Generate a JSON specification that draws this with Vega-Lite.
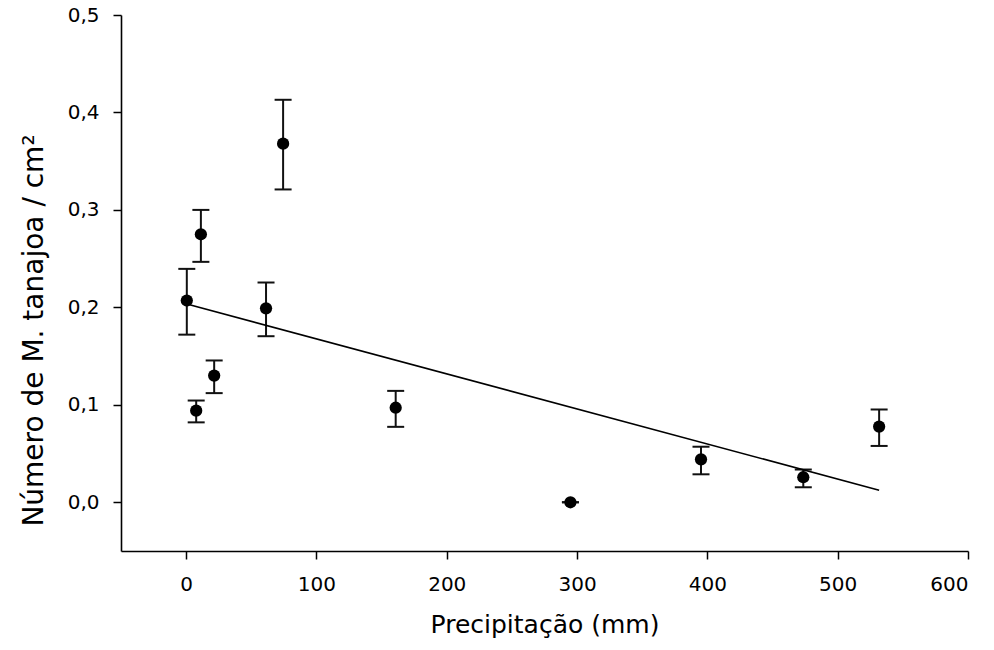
{
  "$schema": "https://vega.github.io/schema/vega-lite/v6.json",
  "width": 847,
  "height": 536,
  "autosize": {"type": "none"},
  "padding": {"left": 121, "top": 15, "right": 26, "bottom": 99},
  "background": "white",
  "datasets": {
    "pts": [
      {"x": 0.5, "y": 0.207, "lo": 0.172, "hi": 0.2395},
      {"x": 7.7, "y": 0.094, "lo": 0.082, "hi": 0.1044},
      {"x": 11.3, "y": 0.275, "lo": 0.2467, "hi": 0.300},
      {"x": 21.5, "y": 0.130, "lo": 0.112, "hi": 0.1455},
      {"x": 61.3, "y": 0.199, "lo": 0.1704, "hi": 0.2255},
      {"x": 74.4, "y": 0.368, "lo": 0.321, "hi": 0.413},
      {"x": 160.8, "y": 0.097, "lo": 0.0774, "hi": 0.1143},
      {"x": 294.9, "y": 0.0, "lo": 0.0, "hi": 0.0},
      {"x": 395.1, "y": 0.0441, "lo": 0.0287, "hi": 0.057},
      {"x": 473.6, "y": 0.0257, "lo": 0.0154, "hi": 0.0336},
      {"x": 531.8, "y": 0.0777, "lo": 0.0578, "hi": 0.0952}
    ],
    "fit": [
      {"x": 0.5, "y": 0.2034},
      {"x": 531.8, "y": 0.0124}
    ]
  },
  "encoding": {
    "x": {
      "field": "x",
      "type": "quantitative",
      "scale": {"domain": [-50, 600], "nice": false, "zero": false},
      "axis": {
        "title": "Precipitação (mm)",
        "values": [0, 100, 200, 300, 400, 500, 600],
        "titleFontSize": 25,
        "titleX": 423.5,
        "titleY": 81,
        "titleBaseline": "alphabetic",
        "titleAlign": "center",
        "labelPadding": 15
      }
    }
  },
  "layer": [
    {
      "data": {"name": "pts"},
      "mark": {"type": "rule", "color": "#111111", "strokeWidth": 2, "opacity": 1},
      "encoding": {
        "y": {
          "field": "lo",
          "type": "quantitative",
          "scale": {"domain": [-0.05, 0.5], "nice": false, "zero": false},
          "axis": {
            "title": "Número de M. tanajoa / cm²",
            "values": [0, 0.1, 0.2, 0.3, 0.4, 0.5],
            "labelExpr": "replace(format(datum.value, '.1f'), '.', ',')",
            "titleFontSize": 28,
            "titleAngle": -90,
            "titleX": -79,
            "titleY": 315,
            "titleBaseline": "alphabetic",
            "titleAlign": "center",
            "labelPadding": 14
          }
        },
        "y2": {"field": "hi"}
      }
    },
    {
      "data": {"name": "pts"},
      "mark": {"type": "tick", "orient": "horizontal", "color": "#111111", "opacity": 1, "size": 17, "thickness": 2},
      "encoding": {
        "y": {
          "field": "lo",
          "type": "quantitative",
          "scale": {"domain": [-0.05, 0.5], "nice": false, "zero": false},
          "axis": {
            "title": "Número de M. tanajoa / cm²",
            "values": [0, 0.1, 0.2, 0.3, 0.4, 0.5],
            "labelExpr": "replace(format(datum.value, '.1f'), '.', ',')",
            "titleFontSize": 28,
            "titleAngle": -90,
            "titleX": -79,
            "titleY": 315,
            "titleBaseline": "alphabetic",
            "titleAlign": "center",
            "labelPadding": 14
          }
        }
      }
    },
    {
      "data": {"name": "pts"},
      "mark": {"type": "tick", "orient": "horizontal", "color": "#111111", "opacity": 1, "size": 17, "thickness": 2},
      "encoding": {
        "y": {
          "field": "hi",
          "type": "quantitative",
          "scale": {"domain": [-0.05, 0.5], "nice": false, "zero": false},
          "axis": {
            "title": "Número de M. tanajoa / cm²",
            "values": [0, 0.1, 0.2, 0.3, 0.4, 0.5],
            "labelExpr": "replace(format(datum.value, '.1f'), '.', ',')",
            "titleFontSize": 28,
            "titleAngle": -90,
            "titleX": -79,
            "titleY": 315,
            "titleBaseline": "alphabetic",
            "titleAlign": "center",
            "labelPadding": 14
          }
        }
      }
    },
    {
      "data": {"name": "fit"},
      "mark": {"type": "line", "color": "#000000", "strokeWidth": 1.6},
      "encoding": {
        "y": {
          "field": "y",
          "type": "quantitative",
          "scale": {"domain": [-0.05, 0.5], "nice": false, "zero": false},
          "axis": {
            "title": "Número de M. tanajoa / cm²",
            "values": [0, 0.1, 0.2, 0.3, 0.4, 0.5],
            "labelExpr": "replace(format(datum.value, '.1f'), '.', ',')",
            "titleFontSize": 28,
            "titleAngle": -90,
            "titleX": -79,
            "titleY": 315,
            "titleBaseline": "alphabetic",
            "titleAlign": "center",
            "labelPadding": 14
          }
        }
      }
    },
    {
      "data": {"name": "pts"},
      "mark": {"type": "circle", "color": "#000000", "opacity": 1, "size": 150},
      "encoding": {
        "y": {
          "field": "y",
          "type": "quantitative",
          "scale": {"domain": [-0.05, 0.5], "nice": false, "zero": false},
          "axis": {
            "title": "Número de M. tanajoa / cm²",
            "values": [0, 0.1, 0.2, 0.3, 0.4, 0.5],
            "labelExpr": "replace(format(datum.value, '.1f'), '.', ',')",
            "titleFontSize": 28,
            "titleAngle": -90,
            "titleX": -79,
            "titleY": 315,
            "titleBaseline": "alphabetic",
            "titleAlign": "center",
            "labelPadding": 14
          }
        }
      }
    }
  ],
  "config": {
    "view": {"stroke": null},
    "axis": {
      "grid": false,
      "domainColor": "#000000",
      "domainWidth": 1.6,
      "tickColor": "#000000",
      "tickWidth": 1.5,
      "tickSize": 8,
      "labelColor": "#000000",
      "titleColor": "#000000",
      "labelFont": "DejaVu Sans",
      "titleFont": "DejaVu Sans",
      "labelFontSize": 20,
      "titleFontWeight": "normal"
    }
  }
}
